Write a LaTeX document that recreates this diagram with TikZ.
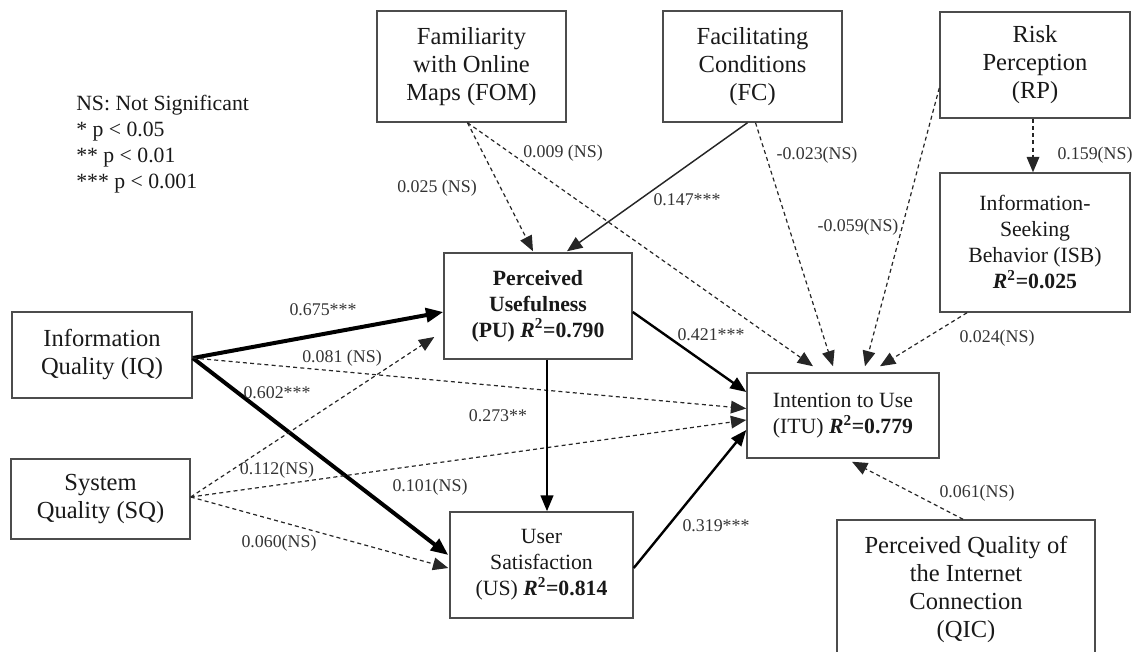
\documentclass[tikz,border=0pt]{standalone}
\usepackage{fontspec}
\setmainfont{Liberation Serif}
\usetikzlibrary{arrows.meta,calc}
\begin{document}
\begin{tikzpicture}[x=0.75pt,y=-0.75pt,
  box/.style={draw=black!70, line width=1.1pt, rectangle, inner sep=0pt, align=center, text=black!90},
  sz/.style 2 args={minimum width=#1*0.75pt, minimum height=#2*0.75pt},
  bigtxt/.style={font=\fontsize{18.4}{21}\selectfont},
  medtxt/.style={font=\fontsize{16.3}{19.5}\selectfont},
  lbl/.style={font=\fontsize{13.4}{15}\selectfont, text=black!80, inner sep=0pt},
  heavy/.style={line width=3pt, -{Triangle[length=13pt,width=10.5pt]}},
  solidarr/.style={line width=1.8pt, -{Triangle[length=12pt,width=9.5pt]}},
  thinarr/.style={line width=1.1pt, draw=black!85, -{Triangle[length=11.5pt,width=9.5pt]}},
  nsarr/.style={line width=0.9pt, draw=black!85, dash pattern=on 3pt off 2.4pt, -{Triangle[length=11.5pt,width=9.5pt]}},
]
\useasboundingbox (0,0) rectangle (1139,652);
\clip (0,0) rectangle (1139,652);

% legend
\node[anchor=north west, inner sep=0pt, align=left, medtxt, text=black!90] (legend) at (76,95)
  {NS: Not Significant\\* p < 0.05\\** p < 0.01\\*** p < 0.001};

% boxes
\node[box, bigtxt, sz={189}{111}] (FOM) at (471.5,66.5) {Familiarity\\with Online\\Maps (FOM)};
\node[box, bigtxt, sz={179}{111}] (FC) at (752.5,66.5) {Facilitating\\Conditions\\(FC)};
\node[box, bigtxt, sz={190}{106}] (RP) at (1035,65) {Risk\\Perception\\(RP)};
\node[box, medtxt, sz={190}{139}] (ISB) at (1035,242.5) {Information-\\Seeking\\Behavior (ISB)\\\textbf{\textit{R}\textsuperscript{2}=0.025}};
\node[box, bigtxt, sz={180}{86}] (IQ) at (102,355) {Information\\Quality (IQ)};
\node[box, bigtxt, sz={179}{80}] (SQ) at (100.5,499) {System\\Quality (SQ)};
\node[box, medtxt, sz={188}{106}] (PU) at (538,306) {\textbf{Perceived}\\\textbf{Usefulness}\\\textbf{(PU) \textit{R}\textsuperscript{2}=0.790}};
\node[box, medtxt, sz={183}{106}] (US) at (541.5,565) {User\\Satisfaction\\(US) \textbf{\textit{R}\textsuperscript{2}=0.814}};
\node[box, medtxt, sz={192}{85}] (ITU) at (843,415.5) {Intention to Use\\(ITU) \textbf{\textit{R}\textsuperscript{2}=0.779}};
\node[box, bigtxt, sz={258}{138}] (QIC) at (966,589) {Perceived Quality of\\the Internet\\Connection\\(QIC)};

% connectors
\draw[heavy] ($(IQ.east)+(0,3)$) -- ($(PU.west)+(0,6)$);
\draw[heavy] ($(IQ.east)+(0,3)$) -- ($(US.west)+(-1,-10)$);
\draw[nsarr] ($(IQ.east)+(0,3)$) -- ($(ITU.west)+(0,-7)$);
\draw[nsarr] ($(SQ.east)+(0,-2)$) -- ($(PU.west)+(-9,31)$);
\draw[nsarr] ($(SQ.east)+(0,-2)$) -- ($(ITU.west)+(0,4.5)$);
\draw[nsarr] ($(SQ.east)+(0,-2)$) -- ($(US.west)+(-1,3)$);
\draw[nsarr] ($(FOM.south)+(-4,0)$) -- ($(PU.north)+(-5,-1)$);
\draw[nsarr] ($(FOM.south)+(-4,0)$) -- ($(ITU.north)+(-30,-6)$);
\draw[thinarr] ($(FC.south)+(-5,0)$) -- ($(PU.north)+(29,-1)$);
\draw[nsarr] ($(FC.south)+(3,0)$) -- ($(ITU.north)+(-10,-6)$);
\draw[nsarr] ($(RP.west)+(0,23)$) -- ($(ITU.north)+(22,-6)$);
\draw[nsarr] ($(ISB.south)+(-68,0)$) -- ($(ITU.north)+(37,-6)$);
\draw[nsarr] ($(RP.south)+(-2,0)$) -- ($(ISB.north)+(-2,0)$);
\draw[solidarr] ($(PU.east)+(0,6)$) -- ($(ITU.west)+(0,-23.5)$);
\draw[solidarr] ($(PU.south)+(9,0)$) -- ($(US.north)+(5.5,0)$);
\draw[solidarr] ($(US.east)+(0,3)$) -- ($(ITU.west)+(0,14.5)$);
\draw[nsarr] ($(QIC.north)+(-3,0)$) -- ($(ITU.south)+(9,3)$);

% path labels
\node[lbl] (l1) at (323,310) {0.675***};
\node[lbl] (l2) at (342,358) {0.081 (NS)};
\node[lbl] (l3) at (277,393) {0.602***};
\node[lbl] (l4) at (277,470) {0.112(NS)};
\node[lbl] (l5) at (430,487) {0.101(NS)};
\node[lbl] (l6) at (279,543) {0.060(NS)};
\node[lbl] (l7) at (437,188) {0.025 (NS)};
\node[lbl] (l8) at (563,153) {0.009 (NS)};
\node[lbl] (l9) at (687,200) {0.147***};
\node[lbl] (l10) at (817,155) {-0.023(NS)};
\node[lbl] (l11) at (858,227) {-0.059(NS)};
\node[lbl] (l12) at (997,338) {0.024(NS)};
\node[lbl] (l13) at (1095,155) {0.159(NS)};
\node[lbl] (l14) at (711,335) {0.421***};
\node[lbl] (l15) at (498,416) {0.273**};
\node[lbl] (l16) at (716,526) {0.319***};
\node[lbl] (l17) at (977,493) {0.061(NS)};
\end{tikzpicture}
\end{document}
